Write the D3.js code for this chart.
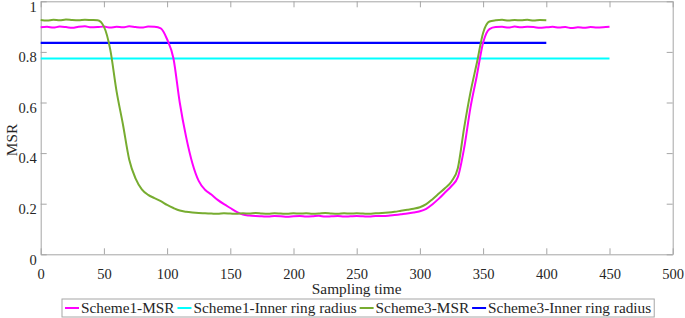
<!DOCTYPE html>
<html>
<head>
<meta charset="utf-8">
<script src="https://cdn.jsdelivr.net/npm/d3@7"></script>
<style>
  body { margin: 0; background: #fff; }
  svg { display: block; }
</style>
</head>
<body>
<div id="chart"></div>
<script>
const width = 685,
    height = 318;
const serifFont = "\"Liberation Serif\"";

// sampling times
const time1 = d3.range(0, 451, 5);
const time3 = d3.range(0, 401, 5);

// Scheme1-MSR, t = 0..450 step 5
const scheme1Msr = [
  0.897, 0.899, 0.896, 0.900, 0.898, 0.895, 0.899, 0.901, 0.897, 0.898, 0.900, 0.896, 0.899, 0.897, 0.901, 0.898, 0.896, 0.900, 0.899,
  0.893, 0.850, 0.775, 0.600, 0.465, 0.360, 0.290, 0.255, 0.236, 0.215, 0.198, 0.183, 0.168, 0.157, 0.153, 0.151,
  0.150, 0.149, 0.151, 0.150, 0.148, 0.150, 0.151, 0.149, 0.150, 0.152, 0.149, 0.150, 0.151, 0.149, 0.150, 0.151, 0.150, 0.149, 0.151,
  0.151, 0.152, 0.155, 0.158, 0.161, 0.165, 0.170, 0.180, 0.198, 0.220, 0.245, 0.270, 0.305, 0.420, 0.580, 0.705, 0.836, 0.890,
  0.898, 0.899, 0.896, 0.900, 0.897, 0.899, 0.898, 0.895, 0.897, 0.899, 0.896, 0.898, 0.894, 0.897, 0.895, 0.898, 0.896, 0.897, 0.899
];

// Scheme3-MSR, t = 0..400 step 5
const scheme3Msr = [
  0.926, 0.924, 0.927, 0.925, 0.928, 0.926, 0.925, 0.927, 0.926, 0.925,
  0.900, 0.810, 0.645, 0.515, 0.375, 0.300, 0.257, 0.235, 0.222, 0.210, 0.195, 0.183, 0.173, 0.168, 0.165, 0.163, 0.162,
  0.161, 0.160, 0.162, 0.161, 0.160, 0.162, 0.161, 0.163, 0.161, 0.160, 0.162, 0.161, 0.160, 0.162, 0.161, 0.162, 0.160, 0.161, 0.163, 0.161, 0.160, 0.162, 0.161, 0.162, 0.161, 0.160, 0.162,
  0.163, 0.165, 0.168, 0.172, 0.176, 0.180, 0.186, 0.198, 0.218, 0.240, 0.262, 0.288, 0.340, 0.500, 0.640, 0.755, 0.875, 0.920,
  0.925, 0.927, 0.924, 0.926, 0.925, 0.927, 0.924, 0.926, 0.925
];

// constant radii
const scheme1Radius = { value: 0.774, end: 450 };
const scheme3Radius = { value: 0.836, end: 400 };

const xTicks = [0, 50, 100, 150, 200, 250, 300, 350, 400, 450, 500];
const yTicks = [0, 0.2, 0.4, 0.6, 0.8, 1];

const legendItems = [
  { name: "Scheme1-MSR", color: "#ff00ff" },
  { name: "Scheme1-Inner ring radius", color: "#00ffff" },
  { name: "Scheme3-MSR", color: "#77ac30" },
  { name: "Scheme3-Inner ring radius", color: "#0000ff" }
];

const svg = d3.select("#chart")
  .append("svg")
  .attr("width", width)
  .attr("height", height)
  .style("font-family", serifFont);

const x = d3.scaleLinear().domain([0, 500]).range([40.7, 672.7]);
const y = d3.scaleLinear().domain([0, 1]).range([254.3, 1.3]);

const frameColor = "#a6a6a6";
const textColor = "#262626";

// axes with inward ticks
const axisBottomG = svg.append("g")
  .attr("transform", `translate(0, ${y(0)})`)
  .call(d3.axisBottom(x).tickValues(xTicks).tickFormat(d3.format("d"))
    .tickSizeInner(-6).tickSizeOuter(0).tickPadding(14));
const axisTopG = svg.append("g")
  .attr("transform", `translate(0, ${y(1)})`)
  .call(d3.axisTop(x).tickValues(xTicks).tickFormat("")
    .tickSizeInner(-6).tickSizeOuter(0));
const axisLeftG = svg.append("g")
  .attr("transform", `translate(${x(0)}, 0)`)
  .call(d3.axisLeft(y).tickValues(yTicks).tickFormat(d => d === 0 || d === 1 ? d : d3.format(".1f")(d))
    .tickSizeInner(-6).tickSizeOuter(0).tickPadding(4));
const axisRightG = svg.append("g")
  .attr("transform", `translate(${x(500)}, 0)`)
  .call(d3.axisRight(y).tickValues(yTicks).tickFormat("")
    .tickSizeInner(-6).tickSizeOuter(0));

[axisBottomG, axisTopG, axisLeftG, axisRightG].forEach(g => {
  g.attr("font-family", "Liberation Serif").attr("font-size", 14.5);
  g.select(".domain").attr("stroke", frameColor);
  g.selectAll(".tick line").attr("stroke", frameColor);
  g.selectAll("text").attr("fill", textColor);
});
axisLeftG.selectAll("text").attr("dy", "0.68em");

// horizontal radius lines
[[scheme1Radius, "#00ffff"], [scheme3Radius, "#0000ff"]].forEach(([r, c]) => {
  svg.append("line")
    .attr("x1", x(0))
    .attr("x2", x(r.end))
    .attr("y1", y(r.value))
    .attr("y2", y(r.value))
    .attr("stroke", c)
    .attr("stroke-width", 2.2);
});

// MSR lines
const line = d3.line()
  .curve(d3.curveMonotoneX)
  .x(d => x(d[0]))
  .y(d => y(d[1]));

svg.append("path")
  .datum(time1.map((t, i) => [t, scheme1Msr[i]]))
  .attr("d", line)
  .attr("fill", "none")
  .attr("stroke", "#ff00ff")
  .attr("stroke-width", 2);

svg.append("path")
  .datum(time3.map((t, i) => [t, scheme3Msr[i]]))
  .attr("d", line)
  .attr("fill", "none")
  .attr("stroke", "#77ac30")
  .attr("stroke-width", 2);

// axis labels
svg.append("text")
  .attr("x", (x(0) + x(500)) / 2)
  .attr("y", 289)
  .attr("dy", "0.35em")
  .attr("text-anchor", "middle")
  .attr("font-family", "Liberation Serif")
  .attr("font-size", 15.3)
  .attr("fill", textColor)
  .text("Sampling time");

svg.append("text")
  .attr("transform", "translate(12, 140) rotate(-90)")
  .attr("dy", "0.35em")
  .attr("text-anchor", "middle")
  .attr("font-family", "Liberation Serif")
  .attr("font-size", 15.3)
  .attr("fill", textColor)
  .text("MSR");

// legend
const legend = svg.append("g");
const box = legend.append("rect")
  .attr("fill", "#fff")
  .attr("stroke", frameColor);

let lx = 65;
legendItems.forEach(item => {
  legend.append("line")
    .attr("x1", lx)
    .attr("x2", lx + 14)
    .attr("y1", 308)
    .attr("y2", 308)
    .attr("stroke", item.color)
    .attr("stroke-width", 2);
  const t = legend.append("text")
    .attr("x", lx + 16)
    .attr("y", 308)
    .attr("dy", "0.35em")
    .attr("font-family", "Liberation Serif")
    .attr("font-size", 15.3)
    .attr("fill", textColor)
    .text(item.name);
  lx += 16 + t.node().getComputedTextLength() + 3;
});
box.attr("x", 62).attr("y", 299).attr("width", lx - 62).attr("height", 18);
</script>
</body>
</html>
